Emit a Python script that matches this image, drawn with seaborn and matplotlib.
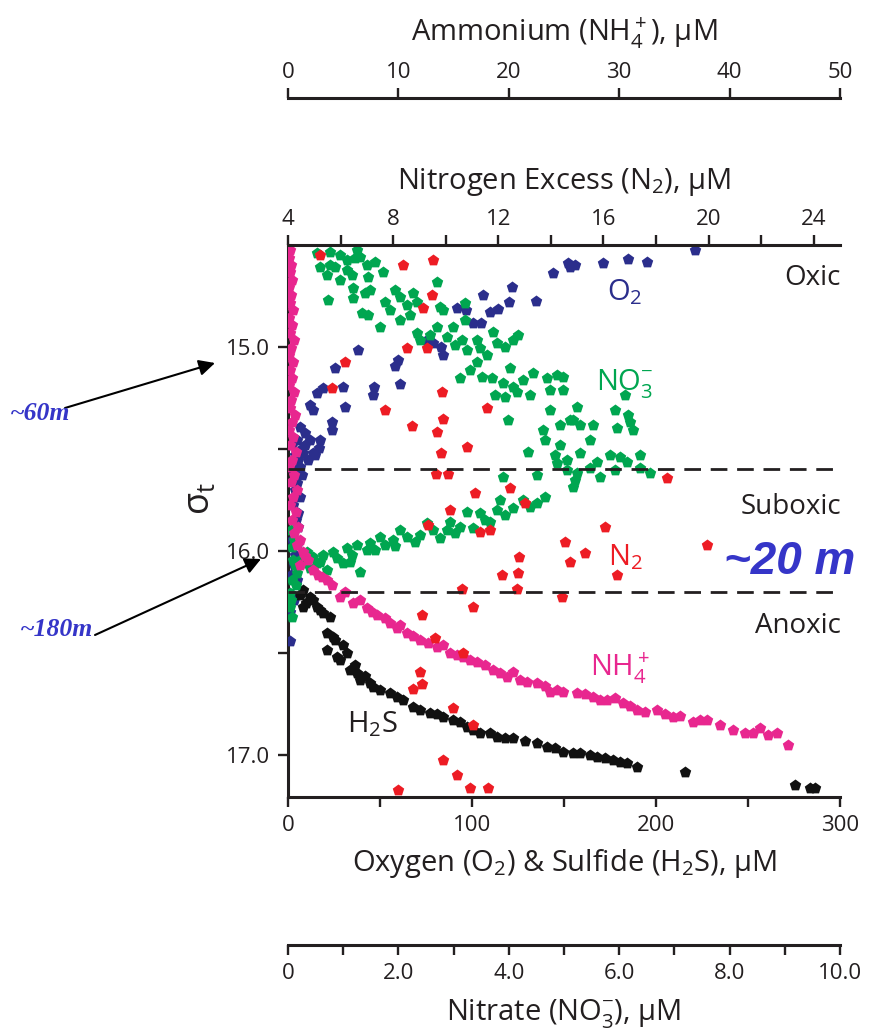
import matplotlib
matplotlib.use('Agg')
import matplotlib.pyplot as plt
import seaborn as sns

# ---------------- data ----------------
# Oxygen (uM) vs sigma-t
o2_val = [221, 195, 185, 171, 153, 152, 156, 144, 135, 122, 120, 114, 110, 106, 105, 100.5, 97, 92,
          84, 83, 79, 75.5, 61, 60, 58, 47, 46, 38, 31, 30, 25.5, 24, 24, 19, 17, 16, 13.5, 13.5, 12,
          9, 8, 6.5, 6.5, 5.5, 5, 5, 3, 9.2, 12.0, 6.5, 3.8, 10.9, 2.2, 4.3, 7.6, 14.7, 17.4,
          6.5, 5.5, 5.5, 5, 3, 5, 1, 1, 3.8, 2.7, 4.3, 2.2, 3.8, 1.6, 2.2, 3.3]
o2_sig = [14.525, 14.583, 14.569, 14.588, 14.608, 14.588, 14.598, 14.637, 14.775, 14.706, 14.779, 14.814,
          14.828, 14.745, 14.882, 14.882, 14.819, 14.809, 15.039, 15.0, 14.98, 14.966, 15.181, 15.064,
          15.093, 15.196, 15.235, 15.015, 15.294, 15.196, 15.103, 15.368, 15.407, 15.201, 15.495, 15.225,
          15.309, 15.52, 15.284, 15.422, 15.52, 15.392, 15.588, 15.554, 15.456, 15.667, 15.618, 15.480,
          15.456, 15.505, 15.529, 15.554, 15.480, 15.603, 15.627, 15.529, 15.456, 15.735, 15.814, 15.882,
          15.97, 16.07, 16.14, 16.30, 16.44, 15.701, 15.775, 15.848, 15.946, 16.020, 16.118, 16.216, 16.240]

# Nitrogen excess N2 (uM)
n2_val = [5.22, 9.51, 8.37, 9.48, 9.13, 9.29, 8.52, 6.17, 5.67, 9.86, 11.57, 7.69, 9.89, 8.71, 9.67,
          10.81, 9.82, 9.63, 10.08, 18.41, 12.44, 11.11, 13.01, 10.16, 9.32, 16.05, 11.30, 11.68, 14.53,
          19.93, 12.78, 15.29, 14.72, 12.14, 12.75, 16.51, 12.71, 10.62, 14.42, 11.03, 9.10, 9.59, 10.65,
          9.02, 9.10, 8.75, 10.27, 11.03, 9.89, 10.43, 10.92, 11.60, 8.18]
n2_sig = [14.549, 14.574, 14.598, 14.745, 14.809, 15.005, 15.005, 15.074, 15.201, 15.221, 15.299, 15.309,
          15.353, 15.387, 15.417, 15.49, 15.52, 15.623, 15.623, 15.642, 15.691, 15.716, 15.765, 15.799,
          15.873, 15.882, 15.907, 15.897, 15.956, 15.971, 16.029, 16.010, 16.054, 16.118, 16.108, 16.118,
          16.186, 16.186, 16.225, 16.275, 16.314, 16.426, 16.5, 16.593, 16.652, 16.676, 16.77, 16.853,
          17.025, 17.098, 17.162, 17.162, 17.172]

# Nitrate NO3- (uM)
no3_val = [0.53, 0.76, 0.94, 1.07, 1.25, 1.30, 0.58, 0.85, 1.07, 1.16, 1.43, 1.58, 1.72, 1.45, 0.71,
           1.18, 1.39, 0.72, 1.18, 1.76, 1.94, 2.03, 2.16, 2.26, 2.34, 2.21, 2.70, 2.75, 2.81, 1.34,
           1.45, 1.67, 2.34, 2.39, 2.70, 2.88, 2.99, 3.21, 3.21, 3.15, 3.24, 3.42, 3.48, 3.71, 3.79,
           3.93, 4.08, 4.17, 3.61, 3.42, 3.12, 3.51, 3.70, 4.02, 3.89, 4.08, 4.26, 4.44, 4.15, 3.93,
           4.69, 4.87, 4.75, 4.98, 5.24, 4.75, 3.99, 4.62, 4.93, 5.16, 4.35, 4.87, 5.05, 5.24, 3.89,
           4.51, 4.98, 5.11, 5.29, 5.53, 5.96, 6.20, 6.16, 6.25, 5.29, 5.05, 5.60, 5.83, 6.01, 6.14,
           6.38, 6.56, 5.65, 5.20, 5.16,
           4.66, 4.93, 5.47, 5.92, 6.11, 6.38, 5.92, 5.47, 4.84, 4.38, 3.75, 3.30, 3.03, 2.57, 2.03,
           1.85, 1.49, 0.94, 0.76, 1.21,
           4.51, 4.26, 4.08, 3.79, 3.48, 3.24, 3.66, 3.35, 3.12, 2.88, 2.52, 2.63, 2.39, 2.16, 2.03,
           1.90, 1.67, 1.49, 1.43, 1.25, 1.07, 0.82, 0.63, 0.45, 0.34, 0.27, 1.0, 1.30, 0.71, 0.53,
           0.16, 0.07, 0.04, 0.04, 0.07, 0.09, 0.07, 0.13, 0.05, 0.14, 0.11, 0.05,
           4.38, 3.93, 3.57, 3.03, 2.75, 2.30, 1.94, 1.58, 1.16, 0.89, 0.58, 0.22, 0.40, 1.12, 1.76,
           2.93, 3.84, 4.66]
no3_sig = [14.539, 14.534, 14.549, 14.574, 14.525, 14.559, 14.608, 14.608, 14.623, 14.647, 14.598, 14.583,
           14.632, 14.657, 14.647, 14.711, 14.735, 14.770, 14.760, 14.779, 14.721, 14.755, 14.794, 14.735,
           14.779, 14.843, 14.681, 14.804, 14.819, 14.833, 14.843, 14.902, 14.931, 14.966, 14.902, 14.951,
           14.902, 14.784, 14.868, 14.966, 15.015, 14.966, 15.005, 14.926, 14.980, 15.0, 14.966, 14.941,
           15.039, 15.074, 15.152, 15.147, 15.152, 15.103, 15.176, 15.196, 15.162, 15.127, 15.221, 15.245,
           15.152, 15.137, 15.211, 15.211, 15.294, 15.309, 15.358, 15.407, 15.382, 15.358, 15.515, 15.569,
           15.603, 15.618, 15.637, 15.627, 15.147, 15.358, 15.382, 15.382, 15.397, 15.368, 15.333, 15.407,
           15.52, 15.554, 15.564, 15.529, 15.539, 15.564, 15.593, 15.618, 15.637, 15.652, 15.686,
           15.456, 15.480, 15.456, 15.309, 15.235, 15.529, 15.603, 15.593, 15.529, 15.235, 15.235, 15.113,
           14.990, 14.941, 14.868, 14.819, 14.721, 14.672, 14.598, 14.564,
           15.765, 15.75, 15.789, 15.799, 15.814, 15.809, 15.858, 15.887, 15.882, 15.897, 15.863, 15.897,
           15.922, 15.931, 15.897, 15.946, 15.931, 15.961, 15.995, 15.971, 15.985, 16.005, 16.020, 16.029,
           16.005, 16.059, 16.059, 16.103, 16.093, 16.059, 16.108, 16.142, 16.206, 16.275, 16.324, 16.044,
           15.980, 16.069, 16.240, 16.166, 15.946, 15.897,
           15.784, 15.824, 15.848, 15.912, 15.936, 15.956, 15.975, 15.995, 16.020, 16.034, 16.054, 16.044,
           16.083, 16.054, 15.971, 15.858, 15.75, 15.735]

# Ammonium NH4+ (uM)
nh4_val = [0.18, 0.09, 0.27, 0.18, 0.36, 0.09, 0.27, 0.18, 0.45, 0.09, 0.36, 0.18, 0.54, 0.27, 0.09,
           0.45, 0.18, 0.36, 0.09, 0.54, 0.27, 0.18, 0.63, 0.36, 0.09, 0.45, 0.18, 0.72, 0.36, 0.09,
           0.54, 0.27, 0.82, 0.45, 0.18, 0.72, 0.36, 0.91, 0.54, 1.09, 0.82, 1.36, 1.54, 1.81, 1.09,
           2.26, 3.08, 3.99, 4.71, 5.89, 7.16, 8.06, 9.24, 9.87, 10.78, 11.96, 13.50, 14.67, 15.85,
           17.12, 18.57, 19.84, 21.01, 22.55, 24.37, 24.91, 26.18, 27.63, 28.89, 30.34, 31.61, 33.42,
           34.87, 36.68, 37.95, 40.31, 42.12, 42.75, 44.29, 45.29,
           2.72, 3.53, 5.16, 6.52, 7.61, 8.79, 10.14, 11.32, 12.68, 14.04, 15.31, 16.49, 17.84, 19.20,
           20.38, 21.65, 23.28, 23.73, 26.90, 28.26, 29.62, 30.98, 32.34, 34.15, 35.51, 37.32, 39.13,
           41.39, 43.48]
nh4_sig = [14.525, 14.564, 14.598, 14.632, 14.672, 14.706, 14.745, 14.784, 14.819, 14.858, 14.892, 14.931,
           14.966, 15.005, 15.039, 15.074, 15.113, 15.152, 15.186, 15.221, 15.260, 15.299, 15.333, 15.368,
           15.407, 15.441, 15.480, 15.515, 15.554, 15.588, 15.627, 15.662, 15.701, 15.735, 15.775, 15.809,
           15.848, 15.882, 15.912, 15.946, 15.971, 16.005, 16.025, 16.044, 16.069,
           16.093, 16.127, 16.167, 16.225, 16.255, 16.279, 16.314, 16.353, 16.377, 16.402, 16.436, 16.471,
           16.5, 16.520, 16.544, 16.583, 16.618, 16.632, 16.647, 16.681, 16.690, 16.696, 16.716, 16.730,
           16.745, 16.779, 16.779, 16.814, 16.838, 16.828, 16.877, 16.892, 16.868, 16.892, 16.951,
           16.118, 16.142, 16.201, 16.240, 16.299, 16.328, 16.363, 16.417, 16.451, 16.461, 16.510, 16.534,
           16.559, 16.598, 16.593, 16.642, 16.662, 16.691, 16.701, 16.730, 16.721, 16.760, 16.789, 16.799,
           16.809, 16.828, 16.853, 16.892, 16.902]

# Sulfide H2S (uM)
h2s_val = [8.2, 12.0, 15.8, 19.0, 8.2, 22.8, 21.2, 24.5, 21.2, 26.6, 32.1, 33.7, 37.5, 39.1, 44.6, 46.2,
           55.4, 62.5, 67.9, 77.2, 84.2, 89.7, 97.3, 104.3, 113.6, 122.3, 135.3, 140.8, 149.5, 154.9,
           158.7, 167.9, 176.6, 184.2, 189.7, 215.8, 275.5, 283.7, 286.4,
           6.5, 9.8, 13.6, 17.4, 25.5, 29.9, 28.3, 36.4, 41.8, 50.0, 59.2, 71.7, 81.0, 93.5, 100.5,
           109.8, 117.9, 128.8, 145.1, 164.1, 172.3, 180.4]
h2s_sig = [16.191, 16.225, 16.275, 16.304, 16.275, 16.324, 16.402, 16.422, 16.485, 16.520, 16.5, 16.583,
           16.598, 16.632, 16.647, 16.667, 16.696, 16.730, 16.765, 16.794, 16.814, 16.828, 16.863, 16.892,
           16.912, 16.917, 16.941, 16.961, 16.985, 16.990, 16.990, 17.010, 17.025, 17.039, 17.059, 17.083,
           17.147, 17.162, 17.162,
           16.216, 16.255, 16.240, 16.289, 16.436, 16.461, 16.534, 16.559, 16.613, 16.681, 16.716, 16.779,
           16.799, 16.838, 16.877, 16.892, 16.917, 16.931, 16.966, 17.0, 17.015, 17.034]

zone_bounds = [15.6, 16.2]
zone_names = ['Oxic', 'Suboxic', 'Anoxic']

o2_ticks = [0, 50, 100, 150, 200, 250, 300]
o2_labels = ['0', '', '100', '', '200', '', '300']
n2_ticks = [4, 6, 8, 10, 12, 14, 16, 18, 20, 22, 24]
n2_labels = ['4', '', '8', '', '12', '', '16', '', '20', '', '24']
nh4_ticks = [0, 10, 20, 30, 40, 50]
nh4_labels = ['0', '10', '20', '30', '40', '50']
no3_ticks = [0, 1, 2, 3, 4, 5, 6, 7, 8, 9, 10]
no3_labels = ['0', '', '2.0', '', '4.0', '', '6.0', '', '8.0', '', '10.0']
sig_ticks = [15.0, 15.5, 16.0, 16.5, 17.0]
sig_labels = ['15.0', '', '16.0', '', '17.0']

# ---------------- style ----------------
sns.set_style('ticks')
plt.rcParams['font.family'] = ['Open Sans', 'DejaVu Sans']
plt.rcParams['mathtext.fontset'] = 'custom'
plt.rcParams['mathtext.rm'] = 'Open Sans'
plt.rcParams['mathtext.it'] = 'Open Sans:italic'
plt.rcParams['mathtext.bf'] = 'Open Sans:bold'

INK = '#231F20'
C_O2 = '#2B2E8C'
C_NO3 = '#00A650'
C_N2 = '#ED1C24'
C_NH4 = '#E8278F'
C_H2S = '#111111'
C_ANN = '#3535C8'

W, H = 869, 1031
fig = plt.figure(figsize=(W / 100, H / 100), dpi=100)
ax = fig.add_axes([288 / W, 1 - 797 / H, 552 / W, 552 / H])
ax_no3 = ax.twiny()
ax_nh4 = ax.twiny()
ax_n2 = ax.twiny()

SPW = 2.2
TFS = 16    # tick label size
LFS = 21    # axis title size
TICK_B = dict(direction='out', length=7, width=1.7, labelsize=TFS, colors=INK, pad=6)
TICK_T = dict(direction='out', length=7, width=1.7, labelsize=TFS, colors=INK, pad=4)
MS = 75

def keep_spine(a, name):
    for s in ['left', 'right', 'top', 'bottom']:
        a.spines[s].set_visible(s == name)
    a.spines[name].set_linewidth(SPW)
    a.spines[name].set_color(INK)

# main axis: O2 & H2S
for s in ['top', 'right']:
    ax.spines[s].set_visible(False)
for s in ['left', 'bottom']:
    ax.spines[s].set_linewidth(SPW)
    ax.spines[s].set_color(INK)
sns.scatterplot(x=o2_val, y=o2_sig, ax=ax, color=C_O2, marker='p', s=MS, linewidth=0, zorder=3)
sns.scatterplot(x=h2s_val, y=h2s_sig, ax=ax, color=C_H2S, marker='p', s=MS, linewidth=0, zorder=3)
ax.set_xlim(0, 300)
ax.set_ylim(17.206, 14.5)
ax.set_xticks(o2_ticks)
ax.set_xticklabels(o2_labels)
ax.set_yticks(sig_ticks)
ax.set_yticklabels(sig_labels)
ax.tick_params(axis='both', **TICK_B)
ax.set_xlabel(r'Oxygen (O$_2$) & Sulfide (H$_2$S), µM', fontsize=LFS, color=INK, labelpad=8)
ax.set_ylabel('σ$_\\mathrm{t}$', fontsize=26, color=INK)
ax.yaxis.set_label_coords(-0.126, 0.54)

# nitrate axis (bottom, offset)
keep_spine(ax_no3, 'bottom')
ax_no3.xaxis.set_ticks_position('bottom')
ax_no3.xaxis.set_label_position('bottom')
ax_no3.spines['bottom'].set_position(('axes', -148 / 552))
sns.scatterplot(x=no3_val, y=no3_sig, ax=ax_no3, color=C_NO3, marker='p', s=MS, linewidth=0, zorder=3)
ax_no3.set_xlim(0, 10)
ax_no3.set_xticks(no3_ticks)
ax_no3.set_xticklabels(no3_labels)
ax_no3.tick_params(axis='x', **TICK_B)
ax_no3.set_xlabel(r'Nitrate (NO$_3^{-}$), µM', fontsize=LFS, color=INK, labelpad=9)

# ammonium axis (top, offset)
keep_spine(ax_nh4, 'top')
ax_nh4.spines['top'].set_position(('axes', 1 + 147 / 552))
sns.scatterplot(x=nh4_val, y=nh4_sig, ax=ax_nh4, color=C_NH4, marker='p', s=MS, linewidth=0, zorder=3)
ax_nh4.set_xlim(0, 50)
ax_nh4.set_xticks(nh4_ticks)
ax_nh4.set_xticklabels(nh4_labels)
ax_nh4.tick_params(axis='x', **TICK_T)
ax_nh4.set_xlabel(r'Ammonium (NH$_4^+$), µM', fontsize=LFS, color=INK, labelpad=15)

# nitrogen excess axis (top)
keep_spine(ax_n2, 'top')
sns.scatterplot(x=n2_val, y=n2_sig, ax=ax_n2, color=C_N2, marker='p', s=MS, linewidth=0, zorder=3)
ax_n2.set_xlim(4, 25)
ax_n2.set_xticks(n2_ticks)
ax_n2.set_xticklabels(n2_labels)
ax_n2.tick_params(axis='x', **TICK_T)
ax_n2.set_xlabel(r'Nitrogen Excess (N$_2$), µM', fontsize=LFS, color=INK, labelpad=14)
for b in zone_bounds:
    ax_n2.axhline(b, color=INK, lw=2.0, dashes=(6, 3.5), zorder=5)
ax_n2.set_ylim(17.206, 14.5)

def px(x, y):
    return x / W, 1 - y / H

# zone names
for name, yy in zip(zone_names, [278, 507, 626]):
    fig.text(*px(841, yy), name, ha='right', va='center', fontsize=20, color=INK)

# species labels
fig.text(*px(625, 292), r'O$_2$', ha='center', va='center', fontsize=LFS, color=C_O2)
fig.text(*px(625, 383), r'NO$_3^{-}$', ha='center', va='center', fontsize=LFS, color=C_NO3)
fig.text(*px(625, 557), r'N$_2$', ha='center', va='center', fontsize=LFS, color=C_N2)
fig.text(*px(620, 668), r'NH$_4^+$', ha='center', va='center', fontsize=LFS, color=C_NH4)
fig.text(*px(372, 724), r'H$_2$S', ha='center', va='center', fontsize=LFS, color=INK)

# depth annotations
fig.text(*px(790, 562), '~20 m', ha='center', va='center', fontsize=33, color=C_ANN,
         family='Liberation Sans', style='italic', weight='bold')
fig.text(*px(40, 413), '~60m', ha='center', va='center', fontsize=18.5, color=C_ANN,
         family='Liberation Serif', style='italic', weight='bold')
fig.text(*px(57, 630), '~180m', ha='center', va='center', fontsize=18.5, color=C_ANN,
         family='Liberation Serif', style='italic', weight='bold')
arrow = dict(arrowstyle='-|>', color='black', lw=1.5, mutation_scale=24, shrinkA=0, shrinkB=0)
ax.annotate('', xy=(215, H - 363), xycoords='figure pixels', xytext=(65, H - 408),
            textcoords='figure pixels', arrowprops=arrow, annotation_clip=False)
ax.annotate('', xy=(261, H - 559), xycoords='figure pixels', xytext=(95, H - 635),
            textcoords='figure pixels', arrowprops=arrow, annotation_clip=False)

fig.savefig('out.png', dpi=100)
